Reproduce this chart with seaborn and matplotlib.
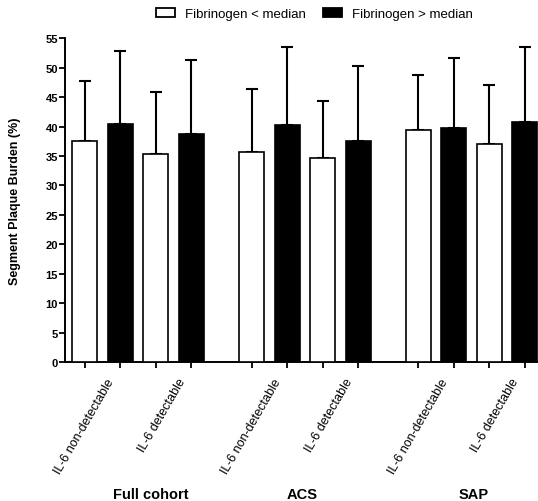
import numpy as np
import pandas as pd
import matplotlib
matplotlib.use("Agg")
import matplotlib.pyplot as plt
import matplotlib.transforms as mtransforms
from matplotlib.patches import Patch
import seaborn as sns

# ---- data ----
groups = ["Full cohort", "ACS", "SAP"]
il6_levels = ["IL-6 non-detectable", "IL-6 detectable"]
fib_levels = ["Fibrinogen < median", "Fibrinogen > median"]
# means in order: group -> il6 -> fib
means = [37.6, 40.4, 35.4, 38.7,
         35.6, 40.3, 34.7, 37.6,
         39.4, 39.8, 37.1, 40.7]
upper = [47.7, 52.9, 45.8, 51.3,
         46.4, 53.5, 44.3, 50.3,
         48.8, 51.6, 47.0, 53.5]
sd = [u - m for u, m in zip(upper, means)]

# ---- layout ----
GROUP_STEP = 4.7
group_label_shift_px = [13, -3, 2]
rows = []
k = 0
for gi, g in enumerate(groups):
    for ii, il in enumerate(il6_levels):
        for fi, fb in enumerate(fib_levels):
            pos = gi * GROUP_STEP + ii * 2 + fi
            rows.append(dict(group=g, il6=il, fib=fb, pos=pos,
                             mean=means[k], sd=sd[k]))
            k += 1
df = pd.DataFrame(rows)

sns.set_style("ticks")
plt.rcParams["font.family"] = ["Liberation Sans", "DejaVu Sans"]
plt.rcParams.update({"text.color": "black", "axes.labelcolor": "black",
                     "xtick.color": "black", "ytick.color": "black",
                     "axes.edgecolor": "black"})

W, H, DPI = 538, 502, 100
fig = plt.figure(figsize=(W / DPI, H / DPI), dpi=DPI)
ax = fig.add_axes([65 / W, (H - 363) / H, (W - 65) / W, (363 - 39.3) / H])

sns.barplot(data=df, x="pos", y="mean", hue="fib", native_scale=True,
            dodge=False, palette={fib_levels[0]: "white", fib_levels[1]: "black"},
            edgecolor="black", linewidth=1.2, width=0.7, legend=False, ax=ax,
            errorbar=None, zorder=3)

ax.errorbar(df["pos"], df["mean"], yerr=[np.zeros(len(df)), df["sd"]],
            fmt="none", ecolor="black", elinewidth=1.5, capsize=4, capthick=1.5,
            zorder=2)

ax.set_xlim(-0.56, 2 * GROUP_STEP + 3 + 0.37)
ax.set_ylim(0, 55)
ax.set_yticks(np.arange(0, 56, 5))
ax.set_xticks(df["pos"])
ax.set_xticklabels([])
ax.set_xlabel("")
ax.set_ylabel("")
for lab in ax.get_yticklabels():
    lab.set_fontweight("bold")
ax.tick_params(axis="y", length=4, width=1.3, pad=1, labelsize=8, colors="black")
ax.tick_params(axis="x", length=4.5, width=1.3, colors="black")
sns.despine(ax=ax)
for s in ["left", "bottom"]:
    ax.spines[s].set_linewidth(1.4)
    ax.spines[s].set_color("black")

# category labels (rotated)
xt = ax.get_xaxis_transform()
for gi, g in enumerate(groups):
    for ii, il in enumerate(il6_levels):
        c = df[(df.group == g) & (df.il6 == il)]["pos"].mean()
        tr = xt + mtransforms.ScaledTranslation(9 / DPI, -17 / DPI, fig.dpi_scale_trans)
        ax.text(c, 0, il, transform=tr, rotation=60, ha="right", va="center",
                rotation_mode="anchor", fontsize=9, color="black")
    gc = df[df.group == g]["pos"].mean()
    tr2 = xt + mtransforms.ScaledTranslation(group_label_shift_px[gi] / DPI, -132 / DPI,
                                             fig.dpi_scale_trans)
    ax.text(gc, 0, g, transform=tr2, ha="center", va="center",
            fontsize=10.5, fontweight="bold", color="black")

fig.text(15 / W, 1 - 201.5 / H, "Segment Plaque Burden (%)", rotation=90,
         ha="center", va="center", fontsize=9, fontweight="bold", color="black")

handles = [Patch(facecolor="white", edgecolor="black", linewidth=1.3),
           Patch(facecolor="black", edgecolor="black", linewidth=1.3)]
leg = fig.legend(handles, fib_levels, loc="center", bbox_to_anchor=(314 / W, 1 - 15 / H),
                 ncol=2, frameon=False, fontsize=9.5, handlelength=1.45,
                 handleheight=0.73, handletextpad=0.75, columnspacing=1.3)
for t in leg.get_texts():
    t.set_color("black")

fig.savefig("out.png", dpi=DPI)
